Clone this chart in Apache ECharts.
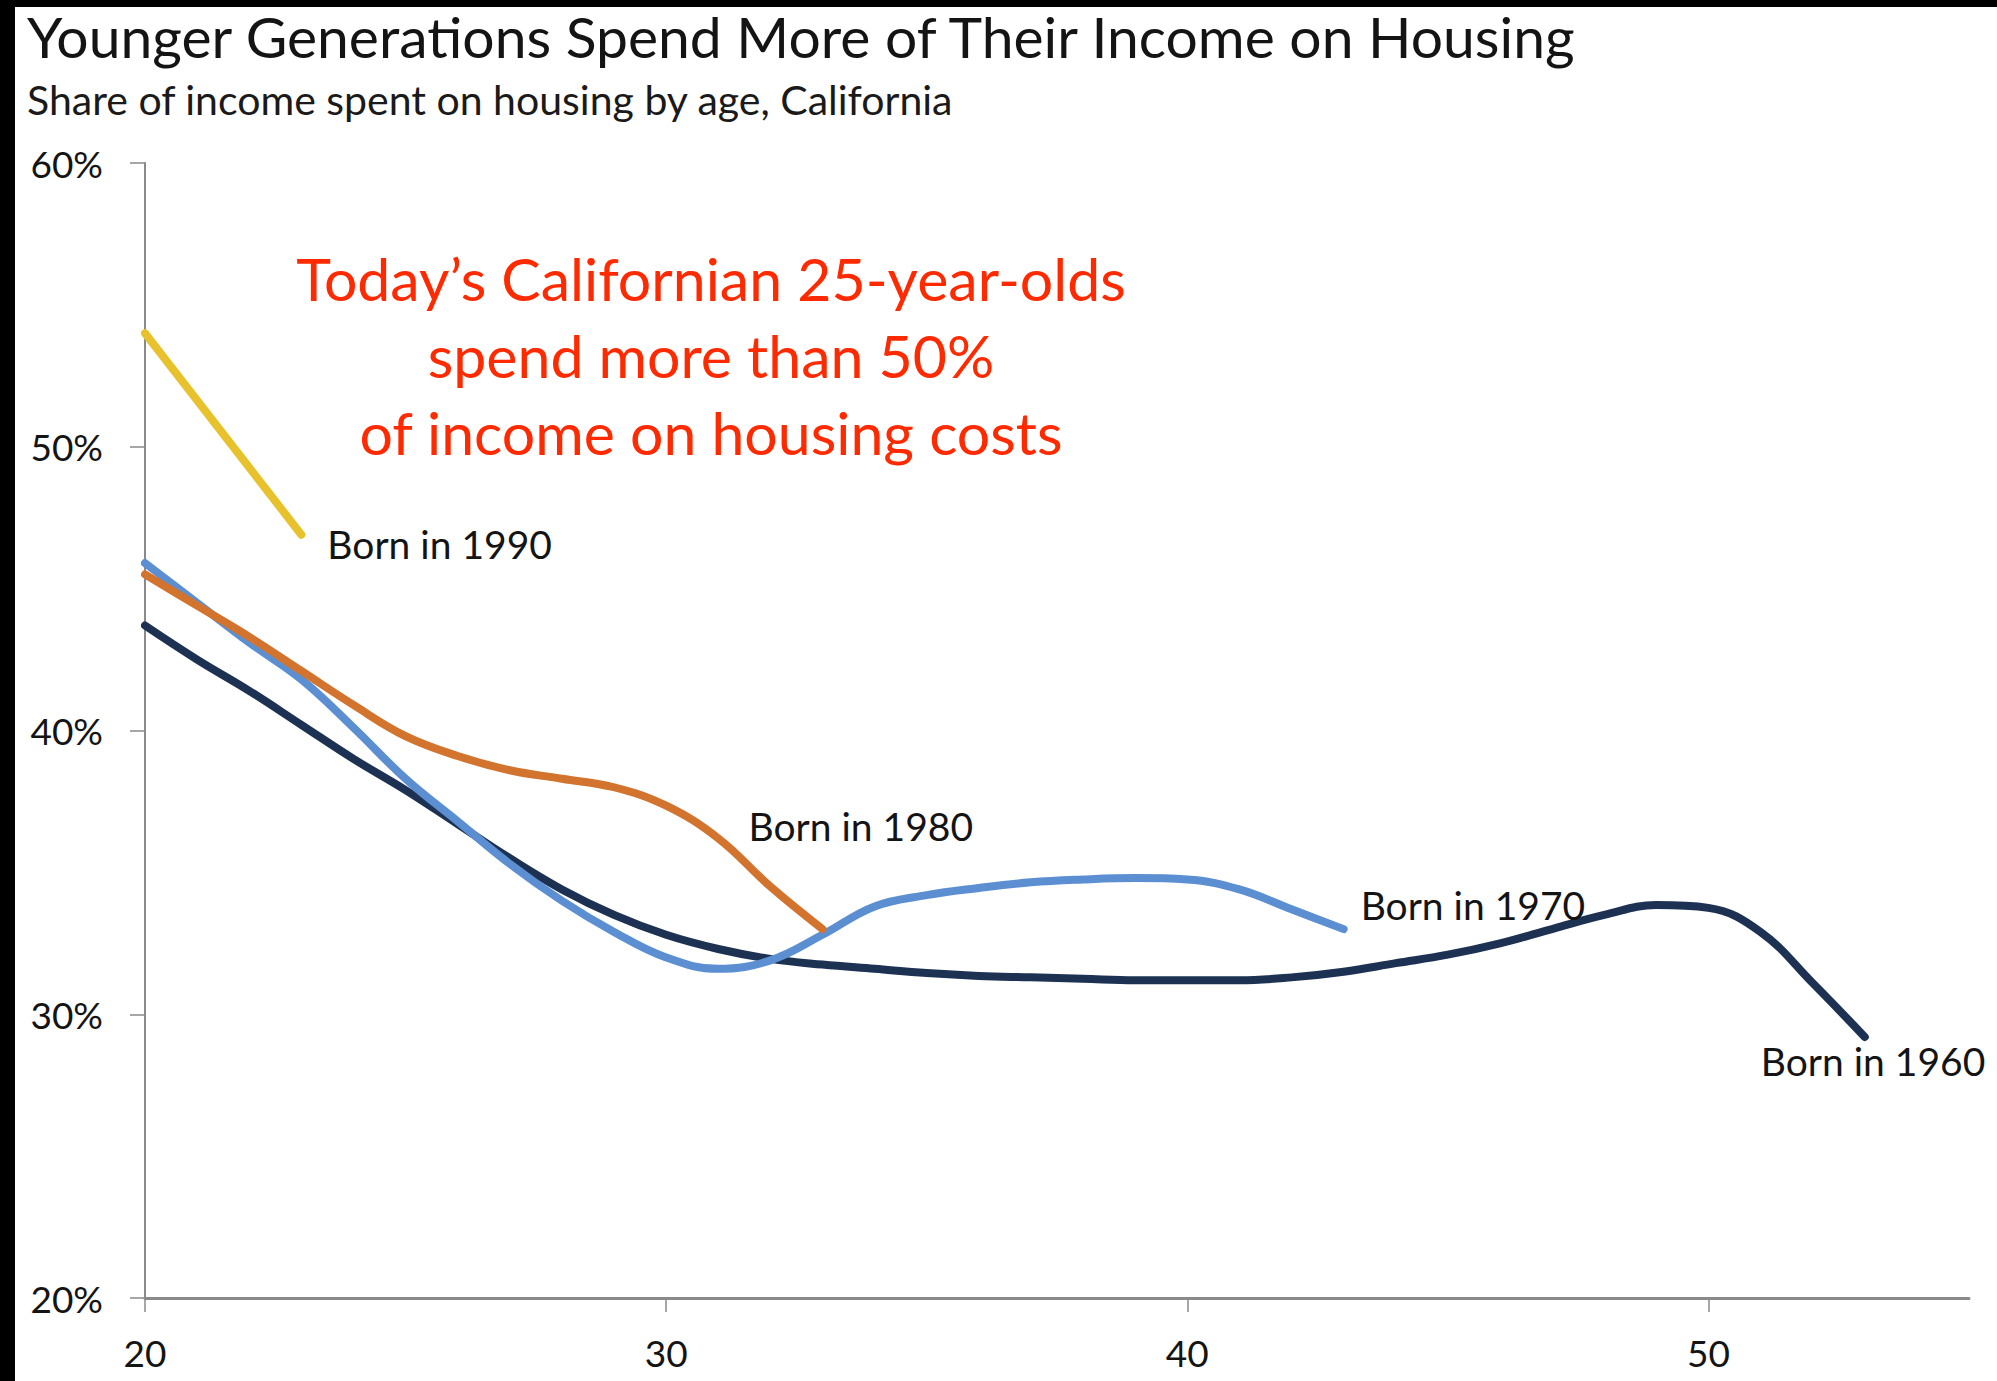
<!DOCTYPE html>
<html>
<head>
<meta charset="utf-8">
<script src="https://cdn.jsdelivr.net/npm/echarts@6/dist/echarts.min.js"></script>
<style>
html,body{margin:0;padding:0;background:#fff;}
#chart{width:1997px;height:1381px;}
</style>
</head>
<body>
<div id="chart"></div>
<script>
// ---- data ----
const titleText = 'Younger Generations Spend More of Their Income on Housing';
const subtitleText = 'Share of income spent on housing by age, California';
const noteLines = ['Today\u2019s Californian 25-year-olds', 'spend more than 50%', 'of income on housing costs'];
const seriesNames = ['Born in 1960', 'Born in 1970', 'Born in 1980', 'Born in 1990'];
const xTicks = [20, 30, 40, 50];
const yTicks = [20, 30, 40, 50, 60];

const ages1990 = [20, 23];
const vals1990 = [54.0, 46.9];

const ages1980 = [20, 21, 22, 23, 24, 25, 26, 27, 28, 29, 30, 31, 32, 33];
const vals1980 = [45.5, 44.4, 43.3, 42.1, 40.9, 39.8, 39.1, 38.6, 38.3, 38.0, 37.35, 36.2, 34.5, 33.0];

const ages1970 = [20, 21, 22, 23, 24, 25, 26, 27, 28, 29, 30, 31, 32, 33, 34, 35, 36, 37, 38, 39, 40, 41, 42, 43];
const vals1970 = [45.9, 44.5, 43.1, 41.8, 40.1, 38.3, 36.8, 35.3, 34.0, 32.9, 32.0, 31.6, 31.9, 32.8, 33.8, 34.2, 34.45, 34.65, 34.75, 34.8, 34.75, 34.4, 33.7, 33.0];

const ages1960 = [20, 21, 22, 23, 24, 25, 26, 27, 28, 29, 30, 31, 32, 33, 34, 35, 36, 37, 38, 39, 40, 41, 42, 43, 44, 45, 46, 47, 48, 49, 50, 51, 52, 53];
const vals1960 = [43.7, 42.5, 41.4, 40.2, 39.0, 37.9, 36.7, 35.5, 34.4, 33.5, 32.8, 32.3, 31.95, 31.75, 31.6, 31.45, 31.35, 31.3, 31.25, 31.2, 31.2, 31.2, 31.3, 31.5, 31.8, 32.1, 32.5, 33.0, 33.5, 33.85, 33.75, 32.9, 31.1, 29.2];

// ---- chart ----
const FONT = 'Lato';
const pairs = (a, v) => a.map((x, i) => [x, v[i]]);

const chart = echarts.init(document.getElementById('chart'), null, {renderer: 'svg'});

function lineSeries(name, data, color, offset) {
  return {
    name: name,
    type: 'line',
    data: data,
    smooth: 0.4,
    showSymbol: false,
    symbol: 'none',
    lineStyle: {color: color, width: 8, cap: 'round', join: 'round'},
    itemStyle: {color: color},
    emphasis: {disabled: true},
    endLabel: {
      show: true,
      formatter: name,
      distance: 0,
      offset: offset,
      color: '#141414',
      fontFamily: FONT,
      fontSize: 39
    },
    labelLayout: {hideOverlap: false},
    z: 3
  };
}

const option = {
  backgroundColor: '#ffffff',
  animation: false,
  title: {
    text: titleText,
    subtext: subtitleText,
    left: 22,
    top: 2,
    itemGap: 15,
    textStyle: {fontFamily: FONT, fontWeight: 'normal', fontSize: 57, color: '#141414'},
    subtextStyle: {fontFamily: FONT, fontSize: 41, color: '#1a1a1a'}
  },
  grid: {left: 145, right: 28, top: 163, bottom: 83, containLabel: false},
  xAxis: {
    type: 'value',
    min: 20,
    max: 55,
    interval: 10,
    splitLine: {show: false},
    axisLine: {show: true, lineStyle: {color: '#8a8a8a', width: 3}},
    axisTick: {show: true, length: 14, customValues: xTicks, lineStyle: {color: '#8a8a8a', width: 1.5}},
    axisLabel: {customValues: xTicks, margin: 36, color: '#141414', fontFamily: FONT, fontSize: 37}
  },
  yAxis: {
    type: 'value',
    min: 20,
    max: 60,
    interval: 10,
    splitLine: {show: false},
    axisLine: {show: true, lineStyle: {color: '#8a8a8a', width: 2}},
    axisTick: {show: true, length: 15, customValues: yTicks, lineStyle: {color: '#8a8a8a', width: 1.5}},
    axisLabel: {customValues: yTicks, margin: 42, color: '#141414', fontFamily: FONT, fontSize: 37, formatter: '{value}%'}
  },
  graphic: [
    {type: 'rect', left: 0, top: 0, shape: {width: 1997, height: 7}, style: {fill: '#000'}, z: 100},
    {type: 'rect', left: 0, top: 0, shape: {width: 15, height: 1381}, style: {fill: '#000'}, z: 100},
    {
      type: 'text',
      x: 711,
      y: 240,
      style: {
        text: noteLines.join('\n'),
        fill: '#ff2a00',
        font: '59px ' + FONT,
        lineHeight: 77,
        align: 'center',
        verticalAlign: 'top'
      },
      z: 50
    }
  ],
  series: [
    lineSeries(seriesNames[0], pairs(ages1960, vals1960), '#1d3152', [-104, 24]),
    lineSeries(seriesNames[1], pairs(ages1970, vals1970), '#5c8fd2', [17, -24]),
    lineSeries(seriesNames[2], pairs(ages1980, vals1980), '#d2732e', [-74, -103]),
    lineSeries(seriesNames[3], pairs(ages1990, vals1990), '#e8c22c', [26, 9])
  ]
};
chart.setOption(option);
</script>
</body>
</html>
